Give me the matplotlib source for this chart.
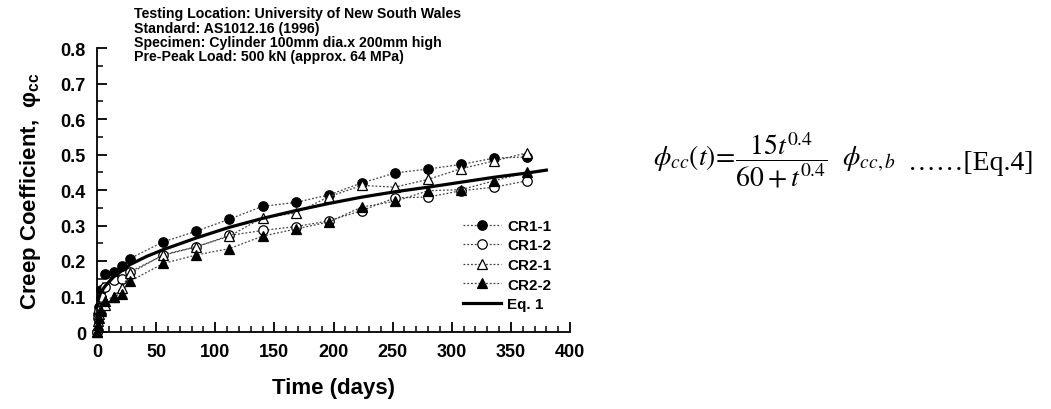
import matplotlib
matplotlib.use("Agg")
import matplotlib.pyplot as plt
from matplotlib.ticker import MultipleLocator

# ---- data ----
days = [0, 1, 2, 3, 7, 14, 21, 28, 56, 84, 112, 140, 168, 196, 224, 252, 280, 308, 336, 364]
cr1_1 = [0.0, 0.05, 0.07, 0.117, 0.162, 0.168, 0.185, 0.207, 0.254, 0.284, 0.318, 0.354,
         0.365, 0.386, 0.420, 0.448, 0.459, 0.472, 0.490, 0.493]
cr1_2 = [0.0, 0.04, 0.06, 0.100, 0.128, 0.146, 0.150, 0.170, 0.216, 0.240, 0.272, 0.286,
         0.297, 0.313, 0.342, 0.378, 0.380, 0.398, 0.408, 0.426]
cr2_1 = [0.0, 0.03, 0.05, 0.065, 0.075, 0.100, 0.125, 0.165, 0.218, 0.240, 0.270, 0.322,
         0.335, 0.381, 0.413, 0.408, 0.430, 0.460, 0.482, 0.505]
cr2_2 = [0.0, 0.02, 0.04, 0.060, 0.088, 0.100, 0.108, 0.143, 0.193, 0.217, 0.235, 0.270,
         0.290, 0.310, 0.352, 0.368, 0.398, 0.401, 0.426, 0.450]
eq_t = [1, 3, 7, 14, 28, 42, 56, 84, 112, 140, 168, 196, 224, 252, 280, 308, 336, 364, 380]
eq_v = [0.090, 0.110, 0.130, 0.155, 0.190, 0.213, 0.232, 0.265, 0.295, 0.320, 0.342, 0.362,
        0.380, 0.395, 0.408, 0.422, 0.436, 0.448, 0.456]
series_labels = ["CR1-1", "CR1-2", "CR2-1", "CR2-2", "Eq. 1"]
x_ticks = [0, 50, 100, 150, 200, 250, 300, 350, 400]
y_ticks = [0, 0.1, 0.2, 0.3, 0.4, 0.5, 0.6, 0.7, 0.8]
y_tick_labels = ["0", "0.1", "0.2", "0.3", "0.4", "0.5", "0.6", "0.7", "0.8"]
info_lines = ["Testing Location: University of New South Wales",
              "Standard: AS1012.16 (1996)",
              "Specimen: Cylinder 100mm dia.x 200mm high",
              "Pre-Peak Load: 500 kN (approx. 64 MPa)"]

plt.rcParams['font.family'] = ['Liberation Sans', 'DejaVu Sans']
plt.rcParams['mathtext.fontset'] = 'custom'
plt.rcParams['mathtext.rm'] = 'Liberation Sans:bold'
plt.rcParams['mathtext.bf'] = 'Liberation Sans:bold'
plt.rcParams['mathtext.it'] = 'Liberation Sans:bold'

W, H = 1051, 410
fig = plt.figure(figsize=(W / 100, H / 100), dpi=100)
ax = fig.add_axes([97 / W, 1 - 333 / H, (570 - 97) / W, (333 - 49) / H])

line_kw = dict(color='#444444', linestyle=(0, (1.5, 1.5)), linewidth=0.9, clip_on=False,
               markeredgecolor='black', markeredgewidth=0.9, markersize=6.8)
ax.plot(days, cr1_1, marker='o', markerfacecolor='black', label=series_labels[0], **line_kw)
ax.plot(days, cr1_2, marker='o', markerfacecolor='white', label=series_labels[1], **line_kw)
ax.plot(days, cr2_1, marker='^', markerfacecolor='white', label=series_labels[2], **line_kw)
ax.plot(days, cr2_2, marker='^', markerfacecolor='black', label=series_labels[3], **line_kw)
ax.plot(eq_t, eq_v, color='black', linewidth=2.3, label=series_labels[4], clip_on=False)

ax.set_xlim(0, 400)
ax.set_ylim(0, 0.8)
ax.set_xticks(x_ticks)
ax.set_yticks(y_ticks)
ax.set_yticklabels(y_tick_labels)
ax.xaxis.set_minor_locator(MultipleLocator(10))
ax.yaxis.set_minor_locator(MultipleLocator(0.05))
for s in ['top', 'right']:
    ax.spines[s].set_visible(False)
for s in ['left', 'bottom']:
    ax.spines[s].set_linewidth(1.3)
ax.tick_params(which='major', direction='in', length=7, width=1.3, labelsize=13, pad=8)
ax.tick_params(which='minor', direction='in', length=4, width=1.1)
for lab in ax.get_xticklabels() + ax.get_yticklabels():
    lab.set_fontweight('bold')

ax.set_xlabel("Time (days)", fontsize=16, fontweight='bold', labelpad=12)
ax.set_ylabel(r"Creep Coefficient,  φ$_{\mathbf{cc}}$", fontsize=16, fontweight='bold', labelpad=13)

leg = ax.legend(loc='upper left', bbox_to_anchor=(463 / W, 1 - 220 / H),
                bbox_transform=fig.transFigure, frameon=False, fontsize=11,
                handlelength=2.5, handletextpad=0.4, labelspacing=0.36, borderpad=0,
                borderaxespad=0)
for t in leg.get_texts():
    t.set_fontweight('bold')

ys = [14, 28.5, 43, 57.5]
for yy, txt in zip(ys, info_lines):
    fig.text(134 / W, 1 - yy / H, txt, fontsize=10.2, fontweight='bold', va='center', ha='left')

eq = r"$\phi_{cc}(t)\!=\!\dfrac{15t^{0.4}}{60+t^{0.4}}\ \ \phi_{cc,b}$"
fig.text(653 / W, 1 - 160 / H, eq, fontsize=20, va='center', ha='left',
         math_fontfamily='stix', fontweight='normal')
fig.text(908 / W, 1 - 164 / H, "……[Eq.4]", fontsize=20, va='center', ha='left',
         family=['Liberation Serif', 'DejaVu Serif'], fontweight='normal')

fig.savefig("out.png", dpi=100)
